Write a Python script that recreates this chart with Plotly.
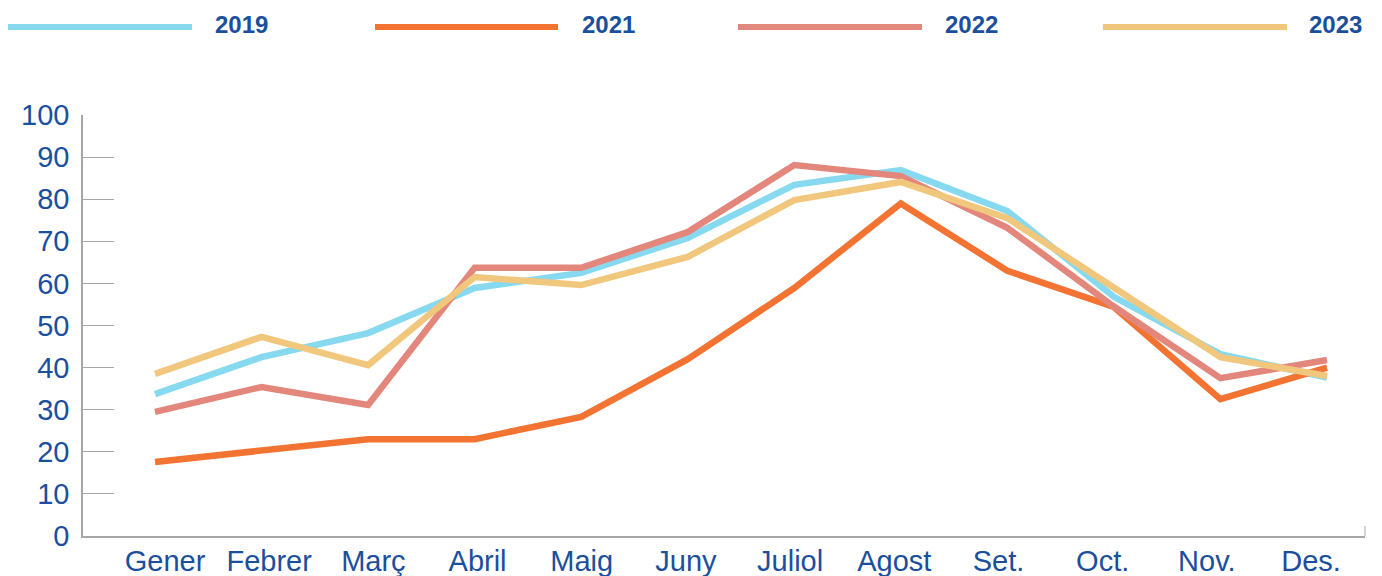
import plotly.graph_objects as go

months = ["Gener", "Febrer", "Març", "Abril", "Maig", "Juny", "Juliol", "Agost", "Set.", "Oct.", "Nov.", "Des."]
series_names = ["2019", "2021", "2022", "2023"]
v2019 = [33.7, 42.5, 48.2, 58.9, 62.5, 70.8, 83.4, 86.9, 77.2, 56.8, 43.2, 37.6]
v2021 = [17.6, 20.4, 23.0, 23.0, 28.3, 42.0, 58.9, 79.0, 63.0, 54.4, 32.5, 40.0]
v2022 = [29.5, 35.4, 31.1, 63.7, 63.7, 72.2, 88.1, 85.5, 73.2, 54.5, 37.5, 41.8]
v2023 = [38.5, 47.3, 40.6, 61.5, 59.6, 66.3, 79.8, 84.1, 75.5, 59.1, 42.5, 38.0]
colors = ["#86D9EF", "#F37432", "#E3877C", "#F0C77C"]

values = [v2019, v2021, v2022, v2023]
TEXT = "#1B4F9C"
AX = "#A6A6A6"
FONT = "Liberation Sans, Arial, sans-serif"

# page has an 8px body margin; figure coordinates = page coordinates - 8
OFF = 8
W, H = 1382 - OFF, 576 - OFF
ML, MT = 83 - OFF, 115 - OFF
MR = W - (1365 - OFF)
MB = H - (536 - OFF)
pw, ph = W - ML - MR, H - MT - MB

idx = list(range(len(months)))
fig = go.Figure()
for name, vals, col in zip(series_names, values, colors):
    fig.add_trace(go.Scatter(x=idx, y=vals, name=name, mode="lines",
                             line=dict(color=col, width=6.5), showlegend=False))
# empty carrier trace so the month-label axis is drawn
fig.add_trace(go.Scatter(x=idx, y=[None] * len(months), xaxis="x2", mode="lines",
                         showlegend=False, hoverinfo="skip"))

# custom legend (long line samples + bold labels), page pixel positions
leg_line_x = [(8, 192), (375, 558), (738, 922), (1103, 1287)]
leg_text_x = [213, 580, 943, 1307]
leg_line_y, leg_text_y = 27, 25
shapes = []
annotations = []
def px(xp):
    return (xp - OFF - ML) / pw
def py(yp):
    return (H - MB - (yp - OFF)) / ph
for (x0, x1), tx, name, col in zip(leg_line_x, leg_text_x, series_names, colors):
    shapes.append(dict(type="line", xref="paper", yref="paper",
                       x0=px(x0), x1=px(x1), y0=py(leg_line_y), y1=py(leg_line_y),
                       line=dict(color=col, width=6)))
    annotations.append(dict(xref="paper", yref="paper", x=px(tx), y=py(leg_text_y),
                            xanchor="left", yanchor="middle", text=f"<b>{name}</b>", showarrow=False,
                            font=dict(family=FONT, size=24, color=TEXT)))
# small end mark at the right of x axis
shapes.append(dict(type="line", xref="paper", yref="paper", x0=1, x1=1, y0=0, y1=10 / ph,
                   line=dict(color=AX, width=1)))

fig.update_layout(
    width=W, height=H,
    margin=dict(l=ML, r=MR, t=MT, b=MB, autoexpand=False),
    paper_bgcolor="white", plot_bgcolor="white",
    shapes=shapes, annotations=annotations,
    font=dict(family=FONT, color=TEXT, size=29),
    xaxis=dict(range=[-0.676, 11.357], tickmode="array", tickvals=idx,
               showticklabels=False, showgrid=False, zeroline=False, showline=True, linecolor=AX,
               linewidth=1.5, ticks="", automargin=False),
    # label axis: month names sit slightly tighter than the data points in the reference
    xaxis2=dict(range=[-0.787, 11.518], overlaying="x", anchor="y", side="bottom",
                tickmode="array", tickvals=idx, ticktext=months, showgrid=False,
                zeroline=False, showline=False, ticks="", ticklabelstandoff=5, automargin=False,
                tickfont=dict(size=29, color=TEXT)),
    yaxis=dict(range=[0, 100], tickvals=list(range(0, 101, 10)), showgrid=False, zeroline=False,
               showline=True, linecolor=AX, linewidth=1.5, ticks="inside", ticklen=31,
               tickcolor=AX, tickwidth=1, ticklabelstandoff=6, automargin=False,
               tickfont=dict(size=29, color=TEXT)),
)

fig.write_html("out.html")
